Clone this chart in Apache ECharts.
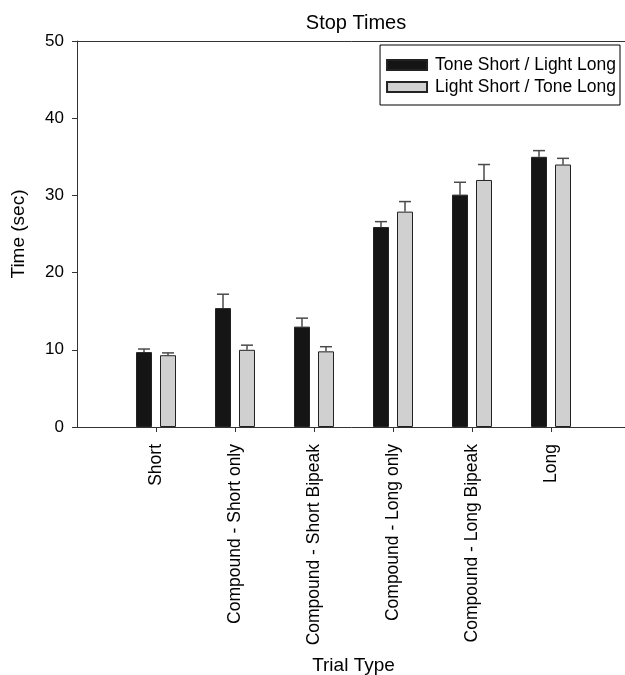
<!DOCTYPE html>
<html>
<head>
<meta charset="utf-8">
<script src="https://cdn.jsdelivr.net/npm/echarts@6/dist/echarts.min.js"></script>
<style>html,body{margin:0;padding:0;background:#fff;}#c{width:625px;height:675px;}</style>
</head>
<body>
<div id="c"></div>
<script>
// Categories (padded with empty slots at both ends of the axis)
const categories = ['', 'Short', 'Compound - Short only', 'Compound - Short Bipeak', 'Compound - Long only', 'Compound - Long Bipeak', 'Long', ''];
const seriesNames = ['Tone Short / Light Long', 'Light Short / Tone Long'];
const toneShortMeans = [null, 9.7, 15.4, 13.0, 25.9, 30.1, 35.0, null];
const toneShortErr   = [null, 0.4, 1.8, 1.1, 0.7, 1.6, 0.8, null];
const lightShortMeans = [null, 9.3, 10.0, 9.8, 27.9, 32.0, 34.0, null];
const lightShortErr   = [null, 0.3, 0.6, 0.6, 1.3, 2.0, 0.8, null];
const yTicks = [0, 10, 20, 30, 40, 50];

const FONT = 'Liberation Sans, Arial, sans-serif';
const BAR_W = 16, BAR_GAP = 8;

function errData(means, errs) {
  const out = [];
  means.forEach((m, i) => { if (m != null) out.push([i, m, m + errs[i]]); });
  return out;
}
function errSeries(means, errs, side) {
  return {
    type: 'custom',
    silent: true,
    z: 1,
    data: errData(means, errs),
    renderItem: function (params, api) {
      const i = api.value(0);
      const p0 = api.coord([i, api.value(1)]);
      const p1 = api.coord([i, api.value(2)]);
      const x = p0[0] + side * (BAR_W / 2 + BAR_GAP / 2);
      const cap = 6;
      const st = { stroke: '#4a4a4a', lineWidth: 1.5 };
      return {
        type: 'group',
        children: [
          { type: 'line', shape: { x1: x, y1: p0[1], x2: x, y2: p1[1] }, style: st },
          { type: 'line', shape: { x1: x - cap, y1: p1[1], x2: x + cap, y2: p1[1] }, style: st }
        ]
      };
    }
  };
}

const chart = echarts.init(document.getElementById('c'), null, { renderer: 'canvas' });
chart.setOption({
  animation: false,
  backgroundColor: '#fff',
  title: {
    text: 'Stop Times',
    left: 351, top: 8, textAlign: 'center',
    textStyle: { fontFamily: FONT, fontSize: 20, fontWeight: 'normal', color: '#000' }
  },
  legend: {
    orient: 'vertical',
    right: 5, top: 45,
    padding: [11, 4, 9, 6],
    itemGap: 4,
    itemWidth: 40, itemHeight: 10,
    icon: 'rect',
    borderColor: '#000', borderWidth: 1,
    textStyle: { fontFamily: FONT, fontSize: 17.5, color: '#000', padding: [0, 0, 0, 3] },
    data: seriesNames
  },
  grid: {
    left: 77, top: 41, width: 553, height: 386,
    outerBoundsMode: 'none', containLabel: false
  },
  xAxis: [{
    type: 'category',
    data: categories,
    boundaryGap: false,
    name: 'Trial Type',
    nameLocation: 'middle',
    nameGap: 229,
    nameTextStyle: { fontFamily: FONT, fontSize: 19, color: '#000' },
    axisLine: { lineStyle: { color: '#333', width: 1 } },
    axisTick: {
      length: 5,
      interval: function (idx) { return idx > 0 && idx < categories.length - 1; },
      lineStyle: { color: '#333' }
    },
    axisLabel: {
      rotate: 90,
      interval: 0,
      margin: 17,
      fontFamily: FONT, fontSize: 17.5, color: '#000'
    },
    splitLine: { show: false }
  }, {
    type: 'category',
    data: categories,
    boundaryGap: false,
    position: 'top',
    axisLine: { show: true, lineStyle: { color: '#333', width: 1 } },
    axisTick: { show: false },
    axisLabel: { show: false },
    splitLine: { show: false }
  }],
  yAxis: {
    type: 'value',
    min: 0, max: 50, interval: 10,
    name: 'Time (sec)',
    nameLocation: 'middle',
    nameGap: 49,
    nameTextStyle: { fontFamily: FONT, fontSize: 19, color: '#000' },
    axisLine: { show: true, lineStyle: { color: '#333' } },
    axisTick: { show: true, length: 5, lineStyle: { color: '#333' } },
    axisLabel: {
      margin: 13, fontFamily: FONT, fontSize: 17, color: '#000',
      formatter: function (v) { return yTicks.indexOf(v) >= 0 ? String(v) : ''; }
    },
    splitLine: { show: false }
  },
  series: [
    {
      name: seriesNames[0], type: 'bar', data: toneShortMeans,
      barWidth: BAR_W, barGap: (BAR_GAP / BAR_W * 100) + '%', z: 2,
      itemStyle: { color: '#151515', borderColor: '#222', borderWidth: 1 }
    },
    {
      name: seriesNames[1], type: 'bar', data: lightShortMeans,
      barWidth: BAR_W, z: 2,
      itemStyle: { color: '#d0d0d0', borderColor: '#222', borderWidth: 1 }
    },
    errSeries(toneShortMeans, toneShortErr, -1),
    errSeries(lightShortMeans, lightShortErr, 1)
  ]
});
</script>
</body>
</html>
